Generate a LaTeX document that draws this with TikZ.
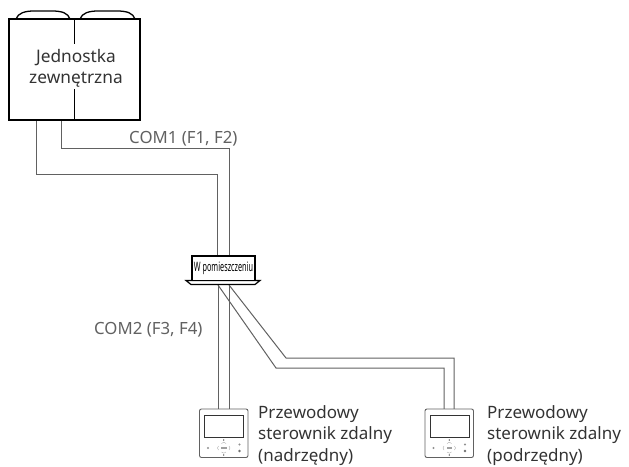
\documentclass[tikz,border=0pt]{standalone}
\usepackage{fontspec}
\usepackage{graphicx}
\setmainfont{Noto Sans}
\definecolor{wire}{gray}{0.38}
\definecolor{lbl}{gray}{0.2}
\tikzset{
  x=1pt,y=-1pt,
  unitbox/.style={draw=black,line width=1.5pt,fill=white},
  thin line/.style={draw=black,line width=1pt},
  wire line/.style={draw=wire,line width=1pt,line join=miter},
  label text/.style={text=lbl,font=\fontsize{17}{21.5}\selectfont,align=left,anchor=north west,inner sep=0pt},
  comm text/.style={text=wire,font=\fontsize{16.8}{18}\selectfont,inner sep=0pt,anchor=base west},
  ctrl body/.style={draw=wire,line width=0.9pt,rounded corners=2pt,fill=white},
  ctrl screen/.style={draw=black!80,line width=1pt,fill=white},
}
\newcommand{\controller}[1]{%
  \begin{scope}[shift={(#1,0)}]
    \draw[ctrl body] (0,409) rectangle (48.5,457.5);
    \draw[ctrl screen] (5,415) rectangle (44,437);
    \fill[black] (24.3,440) circle (0.6);
    \fill[black] (24.3,455) circle (0.6);
    \fill[wire!60] (21.5,447) rectangle (27,449);
    \draw[wire!60,line width=0.3pt] (22,443.5) -- (24.3,442.2) -- (26.5,443.5);
    \draw[wire!60,line width=0.3pt] (22,452) -- (24.3,453.2) -- (26.5,452);
    \draw[wire!60,line width=0.3pt] (19,446) -- (18,448) -- (19,450);
    \draw[wire!60,line width=0.3pt] (29.5,446) -- (30.5,448) -- (29.5,450);
    \fill[wire!70] (8.5,448) circle (1.2);
    \fill[wire!70] (40,444.5) circle (1.2);
    \fill[wire!90] (40,451) circle (1.3);
  \end{scope}}
\begin{document}
\begin{tikzpicture}
\useasboundingbox (0,0) rectangle (629,466);

\coordinate (outA) at (36,120);
\coordinate (outB) at (61,120);
\coordinate (inA) at (217,256);
\coordinate (inB) at (229,256);
\coordinate (dnA) at (218,285);
\coordinate (dnB) at (229,285);
\coordinate (mA) at (218,409);
\coordinate (mB) at (229,409);
\coordinate (sA) at (444,409);
\coordinate (sB) at (454,409);

\draw[wire line] (outA) -- (36,174) -- (217,174) -- (inA);
\draw[wire line] (outB) -- (61,148) -- (229,148) -- (inB);
\draw[wire line] (mA) -- (dnA);
\draw[wire line] (mB) -- (dnB);
\draw[wire line] (dnA) -- (276,368) -- (444,368) -- (sA);
\draw[wire line] (dnB) -- (286,358) -- (454,358) -- (sB);

\draw[thin line,line width=1.3pt] (16,19) .. controls (18,13) and (25,11) .. (34,11) -- (52,11) .. controls (62,11) and (68,13) .. (70,19);
\draw[thin line,line width=1.3pt] (80,19) .. controls (82,13) and (89,11) .. (98,11) -- (117,11) .. controls (127,11) and (133,13) .. (135,19);
\draw[unitbox] (9,19) rectangle (140,120);
\draw[thin line] (74,19) -- (74,44);
\draw[thin line] (74,89) -- (74,120);
\node[text=lbl,font=\fontsize{17.3}{21.5}\selectfont,align=center,inner sep=0pt,anchor=north] (outdoor) at (76,48.8) {Jednostka\\zewnętrzna};

\draw[thin line,line width=1.2pt,fill=white] (186,280.5) -- (260,280.5) -- (255,284.5) -- (191,284.5) -- cycle;
\draw[unitbox] (192,256) rectangle (255,280.5);
\node[inner sep=0pt,font=\fontsize{13}{14}\selectfont,text=black] (indoor) at (223.5,268.5) {\scalebox{0.56}[1]{W pomieszczeniu}};

\controller{199.5}
\controller{425}

\node[comm text] (com1) at (129,143) {COM1 (F1, F2)};
\node[comm text] (com2) at (94,334) {COM2 (F3, F4)};
\node[label text] (masterlabel) at (258,405) {Przewodowy\\sterownik zdalny\\(nadrzędny)};
\node[label text] (slavelabel) at (487,405) {Przewodowy\\sterownik zdalny\\(podrzędny)};
\end{tikzpicture}
\end{document}
